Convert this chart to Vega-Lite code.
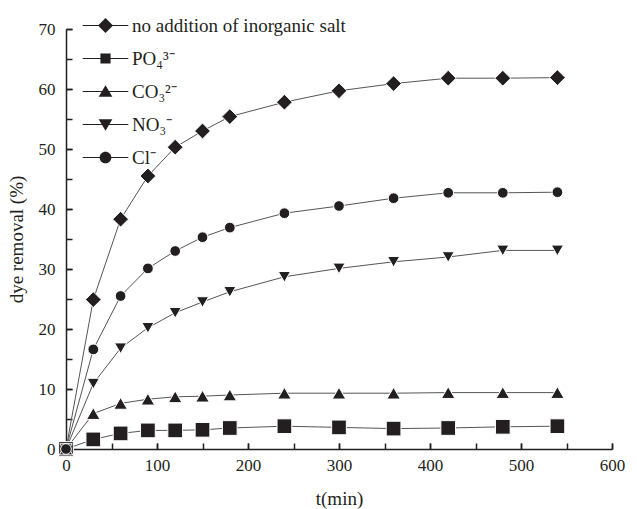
{
  "$schema": "https://vega.github.io/schema/vega-lite/v6.json",
  "width": 546,
  "height": 420,
  "autosize": {"type": "none"},
  "padding": {"left": 66, "top": 29, "right": 25, "bottom": 60},
  "background": "white",
  "config": {
    "view": {"stroke": null},
    "font": "Liberation Serif",
    "axis": {
      "grid": false,
      "domainColor": "#231f20",
      "domainWidth": 1.5,
      "tickColor": "#231f20",
      "tickWidth": 1.5,
      "labelFont": "Liberation Serif",
      "labelFontSize": 17,
      "labelColor": "#231f20",
      "titleFont": "Liberation Serif",
      "titleFontSize": 19,
      "titleFontWeight": "normal",
      "titleColor": "#231f20"
    },
    "legend": {
      "labelFont": "Liberation Serif",
      "labelFontSize": 19,
      "labelColor": "#231f20",
      "labelLimit": 400
    }
  },
  "data": {
    "values": [
      {"t": 0, "s": "no addition of inorganic salt", "v": 0},
      {"t": 30, "s": "no addition of inorganic salt", "v": 24.9},
      {"t": 60, "s": "no addition of inorganic salt", "v": 38.3},
      {"t": 90, "s": "no addition of inorganic salt", "v": 45.5},
      {"t": 120, "s": "no addition of inorganic salt", "v": 50.3},
      {"t": 150, "s": "no addition of inorganic salt", "v": 53.0},
      {"t": 180, "s": "no addition of inorganic salt", "v": 55.4},
      {"t": 240, "s": "no addition of inorganic salt", "v": 57.8},
      {"t": 300, "s": "no addition of inorganic salt", "v": 59.7},
      {"t": 360, "s": "no addition of inorganic salt", "v": 60.9},
      {"t": 420, "s": "no addition of inorganic salt", "v": 61.8},
      {"t": 480, "s": "no addition of inorganic salt", "v": 61.8},
      {"t": 540, "s": "no addition of inorganic salt", "v": 61.9},
      {"t": 0, "s": "PO₄³⁻", "v": 0},
      {"t": 30, "s": "PO₄³⁻", "v": 1.6},
      {"t": 60, "s": "PO₄³⁻", "v": 2.6},
      {"t": 90, "s": "PO₄³⁻", "v": 3.1},
      {"t": 120, "s": "PO₄³⁻", "v": 3.1},
      {"t": 150, "s": "PO₄³⁻", "v": 3.2},
      {"t": 180, "s": "PO₄³⁻", "v": 3.5},
      {"t": 240, "s": "PO₄³⁻", "v": 3.8},
      {"t": 300, "s": "PO₄³⁻", "v": 3.6},
      {"t": 360, "s": "PO₄³⁻", "v": 3.4},
      {"t": 420, "s": "PO₄³⁻", "v": 3.5},
      {"t": 480, "s": "PO₄³⁻", "v": 3.7},
      {"t": 540, "s": "PO₄³⁻", "v": 3.8},
      {"t": 0, "s": "CO₃²⁻", "v": 0},
      {"t": 30, "s": "CO₃²⁻", "v": 5.9},
      {"t": 60, "s": "CO₃²⁻", "v": 7.6},
      {"t": 90, "s": "CO₃²⁻", "v": 8.3},
      {"t": 120, "s": "CO₃²⁻", "v": 8.7},
      {"t": 150, "s": "CO₃²⁻", "v": 8.8},
      {"t": 180, "s": "CO₃²⁻", "v": 9.0},
      {"t": 240, "s": "CO₃²⁻", "v": 9.3},
      {"t": 300, "s": "CO₃²⁻", "v": 9.3},
      {"t": 360, "s": "CO₃²⁻", "v": 9.3},
      {"t": 420, "s": "CO₃²⁻", "v": 9.4},
      {"t": 480, "s": "CO₃²⁻", "v": 9.4},
      {"t": 540, "s": "CO₃²⁻", "v": 9.4},
      {"t": 0, "s": "NO₃⁻", "v": 0},
      {"t": 30, "s": "NO₃⁻", "v": 10.9},
      {"t": 60, "s": "NO₃⁻", "v": 16.8},
      {"t": 90, "s": "NO₃⁻", "v": 20.2},
      {"t": 120, "s": "NO₃⁻", "v": 22.7},
      {"t": 150, "s": "NO₃⁻", "v": 24.5},
      {"t": 180, "s": "NO₃⁻", "v": 26.2},
      {"t": 240, "s": "NO₃⁻", "v": 28.7},
      {"t": 300, "s": "NO₃⁻", "v": 30.1},
      {"t": 360, "s": "NO₃⁻", "v": 31.2},
      {"t": 420, "s": "NO₃⁻", "v": 32.0},
      {"t": 480, "s": "NO₃⁻", "v": 33.1},
      {"t": 540, "s": "NO₃⁻", "v": 33.1},
      {"t": 0, "s": "Cl⁻", "v": 0},
      {"t": 30, "s": "Cl⁻", "v": 16.6},
      {"t": 60, "s": "Cl⁻", "v": 25.5},
      {"t": 90, "s": "Cl⁻", "v": 30.1},
      {"t": 120, "s": "Cl⁻", "v": 33.0},
      {"t": 150, "s": "Cl⁻", "v": 35.3},
      {"t": 180, "s": "Cl⁻", "v": 36.9},
      {"t": 240, "s": "Cl⁻", "v": 39.3},
      {"t": 300, "s": "Cl⁻", "v": 40.5},
      {"t": 360, "s": "Cl⁻", "v": 41.8},
      {"t": 420, "s": "Cl⁻", "v": 42.7},
      {"t": 480, "s": "Cl⁻", "v": 42.7},
      {"t": 540, "s": "Cl⁻", "v": 42.8}
    ]
  },
  "layer": [
    {
      "mark": {"type": "line", "color": "#555555", "strokeWidth": 1},
      "encoding": {
        "x": {
          "field": "t",
          "type": "quantitative",
          "scale": {"domain": [0, 600], "nice": false},
          "axis": {
            "orient": "bottom",
            "title": "t(min)",
            "ticks": true,
            "tickSize": -6,
            "values": [0, 100, 200, 300, 400, 500, 600],
            "labelPadding": 14,
            "labelFlush": false,
            "labelOverlap": false,
            "titlePadding": 16
          }
        },
        "y": {
          "field": "v",
          "type": "quantitative",
          "scale": {"domain": [0, 70], "nice": false},
          "axis": {
            "orient": "left",
            "title": "dye removal (%)",
            "ticks": true,
            "tickSize": -6,
            "values": [0, 10, 20, 30, 40, 50, 60, 70],
            "labelPadding": 17,
            "labelFlush": false,
            "labelOverlap": false,
            "titlePadding": 12
          }
        },
        "detail": {"field": "s", "type": "nominal"},
        "order": {"field": "t", "type": "quantitative"}
      }
    },
    {
      "mark": {"type": "point", "filled": true, "opacity": 1, "stroke": "white", "strokeWidth": 1, "strokeOpacity": 1},
      "encoding": {
        "x": {
          "field": "t",
          "type": "quantitative",
          "axis": {
            "orient": "bottom",
            "offset": -6,
            "domain": false,
            "labels": false,
            "title": null,
            "ticks": true,
            "tickSize": 6,
            "values": [0, 50, 100, 150, 200, 250, 300, 350, 400, 450, 500, 550, 600]
          }
        },
        "y": {
          "field": "v",
          "type": "quantitative",
          "axis": {
            "orient": "left",
            "offset": -6,
            "domain": false,
            "labels": false,
            "title": null,
            "ticks": true,
            "tickSize": 6,
            "values": [0, 5, 10, 15, 20, 25, 30, 35, 40, 45, 50, 55, 60, 65, 70]
          }
        },
        "color": {"value": "#231f20"},
        "shape": {
          "field": "s",
          "type": "nominal",
          "scale": {
            "domain": ["no addition of inorganic salt", "PO₄³⁻", "CO₃²⁻", "NO₃⁻", "Cl⁻"],
            "range": ["diamond", "square", "triangle-up", "triangle-down", "circle"]
          },
          "legend": null
        },
        "size": {
          "field": "s",
          "type": "nominal",
          "scale": {
            "domain": ["no addition of inorganic salt", "PO₄³⁻", "CO₃²⁻", "NO₃⁻", "Cl⁻"],
            "range": [250, 115, 180, 180, 150]
          },
          "legend": null
        }
      }
    },
    {
      "mark": {"type": "point", "filled": true, "opacity": 0},
      "encoding": {
        "x": {"field": "t", "type": "quantitative", "axis": null},
        "y": {"field": "v", "type": "quantitative", "axis": null},
        "color": {"value": "#231f20"},
        "shape": {
          "field": "s",
          "type": "nominal",
          "scale": {
            "domain": ["no addition of inorganic salt", "PO₄³⁻", "CO₃²⁻", "NO₃⁻", "Cl⁻"],
            "range": [
              "M-3.5,-0.08H3.5V0.08H-3.5ZM0,-1.15L1.15,0L0,1.15L-1.15,0Z",
              "M-3.5,-0.08H3.5V0.08H-3.5ZM-0.78,-0.78H0.78V0.78H-0.78Z",
              "M-3.5,-0.08H3.5V0.08H-3.5ZM0,-0.95L1.05,0.8L-1.05,0.8Z",
              "M-3.5,-0.08H3.5V0.08H-3.5ZM0,0.95L-1.05,-0.8L1.05,-0.8Z",
              "M-3.5,-0.08H3.5V0.08H-3.5ZM0.9,0A0.9,0.9,0,1,1,-0.9,0A0.9,0.9,0,1,1,0.9,0Z"
            ]
          },
          "legend": {
            "title": null,
            "orient": "none",
            "legendX": 30,
            "legendY": -13,
            "padding": 0,
            "rowPadding": 13,
            "symbolSize": 170,
            "symbolOpacity": 1,
            "symbolFillColor": "#231f20",
            "labelOffset": 17
          }
        }
      }
    }
  ],
  "resolve": {
    "scale": {"shape": "independent", "size": "independent"},
    "axis": {"x": "independent", "y": "independent"}
  }
}
